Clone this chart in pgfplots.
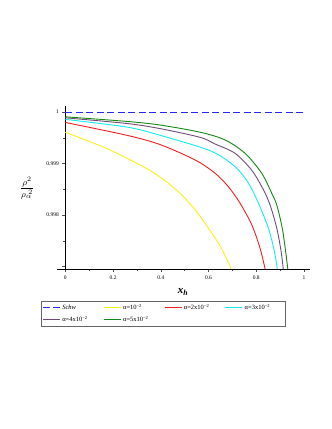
\documentclass[border=0pt]{standalone}
\usepackage{amsmath}
\usepackage{fontspec}
\setmainfont{Liberation Serif}
\usepackage{pgfplots}
\pgfplotsset{compat=1.18}

\definecolor{schw}{RGB}{40,40,245}
\definecolor{ylw}{RGB}{250,240,20}
\definecolor{rd}{RGB}{240,30,30}
\definecolor{cy}{RGB}{20,235,240}
\definecolor{pu}{RGB}{110,75,120}
\definecolor{gr}{RGB}{20,135,20}

\newcommand{\lt}[1]{\makebox[38pt][l]{#1}}

\begin{document}
\begin{tikzpicture}
\path[use as bounding box] (0,0) rectangle (332pt,429pt);
\begin{axis}[
  at={(57pt,160pt)}, anchor=south west,
  scale only axis, width=253pt, height=163pt,
  xmin=-0.035, xmax=1.025, ymin=0.99695, ymax=1.00012,
  axis y line=center, axis x line=bottom,
  axis line style={-, black, line width=0.8pt},
  xtick={0,0.2,0.4,0.6,0.8,1},
  xticklabels={0,0.2,0.4,0.6,0.8,1},
  ytick={0.997,0.998,0.999,1},
  yticklabels={,0.998,0.999,1},
  minor x tick num=1, minor y tick num=1,
  tick align=outside, major tick length=3pt, minor tick length=2pt,
  tick style={black!70, line width=0.4pt},
  ticklabel style={font=\fontsize{5.5}{6}\selectfont},
  scaled y ticks=false,
  every axis plot/.append style={line width=0.9pt},
  legend columns=4,
  legend cell align=left,
  legend style={at={(-0.0632,-0.1945)}, anchor=north west,
    font=\fontsize{6.5}{7}\selectfont,
    inner sep=1pt, row sep=1pt, draw=black!60, line width=1pt,
    /tikz/every even column/.append style={column sep=1pt}},
  legend image code/.code={%
    \draw[#1, line width=0.8pt] (0pt,0pt) -- (17pt,0pt);},
]
\addplot[color=schw, dash pattern=on 7pt off 3.5pt] coordinates {(0,1) (1,1)};
\addlegendentry{\lt{\textit{Schw}}}
\addplot[color=ylw, smooth] coordinates {
  (0,0.99961) (0.17,0.99930) (0.314,0.99897) (0.397,0.99874) (0.481,0.99842)
  (0.551,0.99806) (0.628,0.99755) (0.662,0.99728) (0.695,0.99695) (0.697,0.99690)};
\addlegendentry{\lt{α=10\textsuperscript{−2}}}
\addplot[color=rd, smooth] coordinates {
  (0,0.99980) (0.258,0.99955) (0.397,0.99937) (0.544,0.99907) (0.628,0.99881)
  (0.683,0.99855) (0.732,0.99823) (0.781,0.99781) (0.816,0.99735) (0.837,0.99695) (0.839,0.99690)};
\addlegendentry{\lt{α=2x10\textsuperscript{−2}}}
\addplot[color=cy, smooth] coordinates {
  (0,0.99986) (0.258,0.99971) (0.397,0.99955) (0.607,0.99925) (0.711,0.99894)
  (0.767,0.99862) (0.809,0.99823) (0.851,0.99774) (0.876,0.99729) (0.888,0.99695) (0.889,0.99690)};
\addlegendentry{\lt{α=3x10\textsuperscript{−2}}}
\addplot[color=pu, smooth] coordinates {
  (0,0.99989) (0.258,0.99978) (0.397,0.99968) (0.565,0.99951) (0.628,0.99938) (0.711,0.99920)
  (0.781,0.99887) (0.830,0.99849) (0.858,0.99819) (0.886,0.99774) (0.904,0.99729) (0.913,0.99695) (0.914,0.99690)};
\addlegendentry{\lt{α=4x10\textsuperscript{−2}}}
\addplot[color=gr, smooth] coordinates {
  (0,0.99991) (0.258,0.99982) (0.397,0.99975) (0.565,0.99961) (0.669,0.99946)
  (0.753,0.99920) (0.823,0.99881) (0.865,0.99842) (0.886,0.99819) (0.909,0.99774) (0.923,0.99729) (0.932,0.99695) (0.933,0.99690)};
\addlegendentry{\lt{α=5x10\textsuperscript{−2}}}
\end{axis}
\node at (27pt,241pt) {\fontsize{9.5}{11}\selectfont $\dfrac{\rho^{2}}{\rho_{\alpha}^{\;2}}$};
\node at (183pt,137pt) {\fontsize{11}{12}\selectfont\textbf{\textit{x}}\textsubscript{\textbf{\textit{h}}}};
\end{tikzpicture}
\end{document}
